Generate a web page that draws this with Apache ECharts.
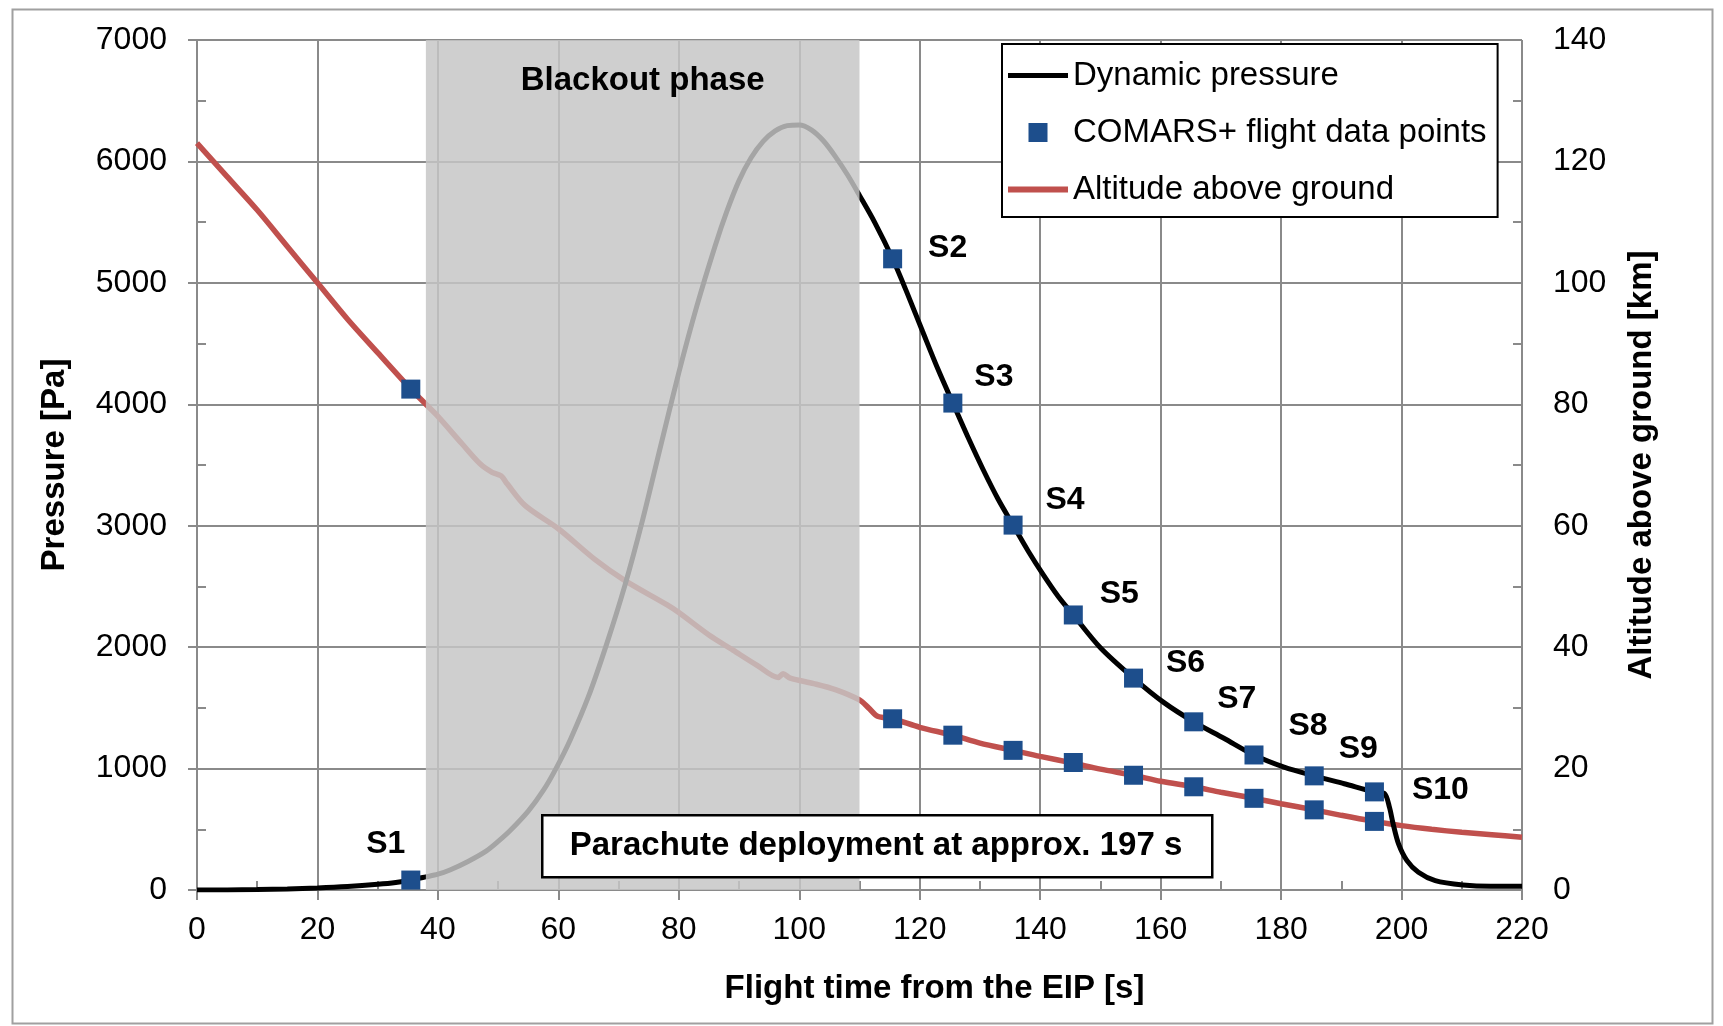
<!DOCTYPE html>
<html>
<head>
<meta charset="utf-8">
<title>Dynamic pressure and altitude</title>
<script src="https://cdn.jsdelivr.net/npm/echarts@6/dist/echarts.min.js"></script>
<style>
    html, body { margin: 0; padding: 0; background: #fff; }
    #main { width: 1723px; height: 1026px; }
</style>
</head>
<body>
<div id="main"></div>
<script>
// flight time [s] / dynamic pressure [Pa]
var pressureTime = [0, 5, 10, 15, 20, 25, 30, 33, 35.5, 38, 40, 42, 45, 48, 50, 52, 55, 57.5, 59.6, 62, 65, 68, 71, 74, 77, 80, 83, 86, 88, 90, 92, 94, 96, 98, 100, 102, 104, 106, 108, 110, 112.5, 115.5, 118, 120.5, 123, 125.5, 128, 130.5, 133, 135.5, 138, 140.5, 143, 145.5, 150, 155.5, 160.5, 165.5, 170.5, 175.5, 180.5, 185.5, 190.5, 195.5, 197.2, 198, 198.6, 199.5, 200.9, 202.8, 205.6, 210.2, 214.8, 220];
var pressureValue = [0, 1, 4, 9, 17, 29, 47, 62, 82, 108, 130, 165, 235, 320, 400, 490, 650, 820, 1000, 1240, 1594, 2023, 2500, 3050, 3660, 4260, 4810, 5300, 5592, 5842, 6030, 6165, 6252, 6295, 6300, 6260, 6170, 6040, 5890, 5720, 5500, 5198, 4905, 4597, 4292, 4010, 3730, 3465, 3220, 3005, 2792, 2597, 2417, 2265, 1995, 1745, 1545, 1385, 1250, 1112, 1012, 940, 875, 808, 793, 680, 545, 380, 242, 146, 77, 41, 30, 30];

// flight time [s] / altitude above ground [km]
var altitudeTime = [0, 5, 10, 15, 20, 25, 30, 35.5, 38, 40, 44, 47, 49, 50.5, 51.5, 54.5, 60, 66, 71, 78, 80, 85, 89, 93, 96.5, 97.3, 98.5, 102.4, 106, 110, 111.5, 113, 115.5, 120, 125.5, 130, 135.5, 140, 145.5, 150, 155.5, 160, 165.5, 170, 175.5, 180, 185.5, 190, 195.5, 200, 205, 210, 215, 220];
var altitudeValue = [123, 117.5, 112, 106, 100, 94, 88.5, 82.5, 80, 78, 73.5, 70.2, 68.8, 68.2, 66.9, 63.3, 59.5, 54.5, 51, 47, 45.7, 42, 39.5, 37, 35.0, 35.6, 34.9, 34, 33, 31.3, 30, 28.6, 28.2, 26.8, 25.5, 24.2, 23, 22, 20.9, 19.9, 18.9, 17.9, 17.0, 16.1, 15.1, 14.2, 13.2, 12.3, 11.3, 10.6, 10, 9.5, 9.1, 8.7];

// COMARS+ flight data points
var pointTime = [35.5, 115.5, 125.5, 135.5, 145.5, 155.5, 165.5, 175.5, 185.5, 195.5];
var pointPressure = [82, 5198, 4010, 3005, 2265, 1745, 1385, 1112, 940, 808];
var pointAltitude = [82.5, 28.2, 25.5, 23.0, 21.0, 18.9, 17.0, 15.1, 13.2, 11.3];
var pointLabels = ['S1', 'S2', 'S3', 'S4', 'S5', 'S6', 'S7', 'S8', 'S9', 'S10'];

// blackout phase [s]
var blackoutRange = [38, 110];

// label placement relative to the marker (px)
var labelOffsets = [[-25, -36], [55, -11], [41, -26], [52, -25], [46, -21], [52, -15], [43, -23], [54, -29], [44, -27], [66, -2]];

var FONT = '"Liberation Sans", Arial, sans-serif';
var GRID_COLOR = '#8a8a8a';
var BLUE = '#1d4e8c';
var RED = '#c0504d';

// legend icons: 60x19 box, tiny corner dots keep the full box size
var BOX = 'M0,0 L0.01,0 L0.01,0.01 Z M60,19 L59.99,19 L59.99,18.99 Z ';
var ICON_BLACK = 'path://' + BOX + 'M0,7 H60 V12 H0 Z';
var ICON_RED = 'path://' + BOX + 'M0,6.5 H60 V12.5 H0 Z';
var ICON_SQUARE = 'path://' + BOX + 'M20.5,0 H39.5 V19 H20.5 Z';

function pairs(xs, ys) {
    return xs.map(function (x, i) { return [x, ys[i]]; });
}

var pressureData = pairs(pressureTime, pressureValue);
var altitudeData = pairs(altitudeTime, altitudeValue);
var pointPressureData = pointTime.map(function (t, i) {
    return {
        value: [t, pointPressure[i]],
        label: { formatter: pointLabels[i], offset: labelOffsets[i] }
    };
});
var pointAltitudeData = pairs(pointTime, pointAltitude);

var axisLineStyle = { color: GRID_COLOR, width: 2 };
var plainNumber = function (v) { return String(v); };

var myChart = echarts.init(document.getElementById('main'), null, { renderer: 'canvas' });

myChart.setOption({
    animation: false,
    backgroundColor: '#fff',
    textStyle: { fontFamily: FONT },
    grid: { left: 197, right: 201, top: 40, bottom: 136 },
    legend: {
        orient: 'vertical',
        left: 1002,
        top: 44,
        padding: [15, 11, 11, 6],
        itemWidth: 60,
        itemHeight: 19,
        itemGap: 24,
        borderColor: '#000',
        borderWidth: 2,
        backgroundColor: '#fff',
        z: 20,
        textStyle: { fontFamily: FONT, fontSize: 33, color: '#000' },
        data: [
            { name: 'Dynamic pressure', icon: ICON_BLACK },
            { name: 'COMARS+ flight data points', icon: ICON_SQUARE },
            { name: 'Altitude above ground', icon: ICON_RED }
        ]
    },
    xAxis: [{
        type: 'value',
        min: 0,
        max: 220,
        interval: 20,
        name: 'Flight time from the EIP [s]',
        nameLocation: 'middle',
        nameGap: 82,
        nameTextStyle: { fontFamily: FONT, fontSize: 33, fontWeight: 'bold', color: '#000', padding: [0, 0, 0, 150] },
        axisLine: { lineStyle: axisLineStyle },
        axisTick: { length: 10, lineStyle: axisLineStyle },
        axisLabel: { fontSize: 32, color: '#000', margin: 24, formatter: plainNumber },
        splitLine: { lineStyle: { color: GRID_COLOR, width: 2 } }
    }, {
        // minor ticks pointing into the plot
        type: 'value',
        min: 0,
        max: 220,
        interval: 10,
        position: 'bottom',
        axisLine: { show: false },
        axisTick: { inside: true, length: 9, lineStyle: axisLineStyle },
        axisLabel: { show: false },
        splitLine: { show: false }
    }],
    yAxis: [{
        type: 'value',
        position: 'left',
        min: 0,
        max: 7000,
        interval: 1000,
        name: 'Pressure [Pa]',
        nameLocation: 'middle',
        nameGap: 126,
        nameTextStyle: { fontFamily: FONT, fontSize: 33, fontWeight: 'bold', color: '#000' },
        axisLine: { show: true, lineStyle: axisLineStyle },
        axisTick: { show: true, length: 9, lineStyle: axisLineStyle },
        axisLabel: { fontSize: 32, color: '#000', margin: 30, formatter: plainNumber },
        splitLine: { lineStyle: { color: GRID_COLOR, width: 2 } }
    }, {
        type: 'value',
        position: 'right',
        min: 0,
        max: 140,
        interval: 20,
        name: 'Altitude above ground [km]',
        nameLocation: 'middle',
        nameGap: 103,
        nameTextStyle: { fontFamily: FONT, fontSize: 33, fontWeight: 'bold', color: '#000' },
        axisLine: { show: true, lineStyle: axisLineStyle },
        axisTick: { show: true, length: 10, lineStyle: axisLineStyle },
        axisLabel: { fontSize: 32, color: '#000', margin: 31, formatter: plainNumber },
        splitLine: { show: false }
    }, {
        type: 'value',
        position: 'left',
        min: 0,
        max: 7000,
        interval: 500,
        axisLine: { show: false },
        axisTick: { show: true, inside: true, length: 9, lineStyle: axisLineStyle },
        axisLabel: { show: false },
        splitLine: { show: false }
    }, {
        type: 'value',
        position: 'right',
        min: 0,
        max: 140,
        interval: 10,
        axisLine: { show: false },
        axisTick: { show: true, inside: true, length: 9, lineStyle: axisLineStyle },
        axisLabel: { show: false },
        splitLine: { show: false }
    }],
    series: [{
        name: 'Altitude above ground',
        type: 'line',
        yAxisIndex: 1,
        data: altitudeData,
        symbol: 'none',
        smooth: 0.3,
        z: 2,
        lineStyle: { color: RED, width: 5.5 },
        itemStyle: { color: RED }
    }, {
        name: 'Dynamic pressure',
        type: 'line',
        yAxisIndex: 0,
        data: pressureData,
        symbol: 'none',
        smooth: 0.3,
        z: 2,
        lineStyle: { color: '#000', width: 5 },
        itemStyle: { color: '#000' }
    }, {
        // translucent blackout band, drawn over the curves so they fade
        name: 'blackout',
        type: 'line',
        data: [],
        z: 3,
        silent: true,
        markArea: {
            z: 3,
            silent: true,
            itemStyle: { color: 'rgba(198,198,198,0.835)' },
            label: {
                show: true,
                position: 'insideTop',
                distance: 24,
                fontFamily: FONT,
                fontSize: 33,
                fontWeight: 'bold',
                color: '#000'
            },
            data: [[{ name: 'Blackout phase', xAxis: blackoutRange[0] }, { xAxis: blackoutRange[1] }]]
        }
    }, {
        name: 'COMARS+ flight data points',
        type: 'scatter',
        yAxisIndex: 1,
        data: pointAltitudeData,
        symbol: 'rect',
        symbolSize: 19,
        z: 4,
        itemStyle: { color: BLUE, opacity: 1 }
    }, {
        name: 'COMARS+ flight data points',
        type: 'scatter',
        yAxisIndex: 0,
        data: pointPressureData,
        symbol: 'rect',
        symbolSize: 19,
        z: 4,
        itemStyle: { color: BLUE, opacity: 1 },
        label: {
            show: true,
            position: 'inside',
            fontFamily: FONT,
            fontSize: 32,
            fontWeight: 'bold',
            color: '#000'
        }
    }],
    graphic: [{
        type: 'rect',
        left: 10,
        top: 7,
        shape: { width: 1700, height: 1014 },
        style: { fill: 'none', stroke: '#a0a0a0', lineWidth: 2 },
        z: 0,
        silent: true
    }, {
        type: 'rect',
        left: 541,
        top: 814,
        z: 50,
        shape: { width: 670, height: 62 },
        style: { fill: '#fff', stroke: '#000', lineWidth: 2.5 }
    }, {
        type: 'text',
        x: 876,
        y: 846,
        z: 51,
        style: {
            text: 'Parachute deployment at approx. 197 s',
            font: 'bold 33px ' + FONT,
            fill: '#000',
            align: 'center',
            verticalAlign: 'middle'
        }
    }]
});

window.addEventListener('resize', function () {
    myChart.resize();
});
</script>
</body>
</html>
